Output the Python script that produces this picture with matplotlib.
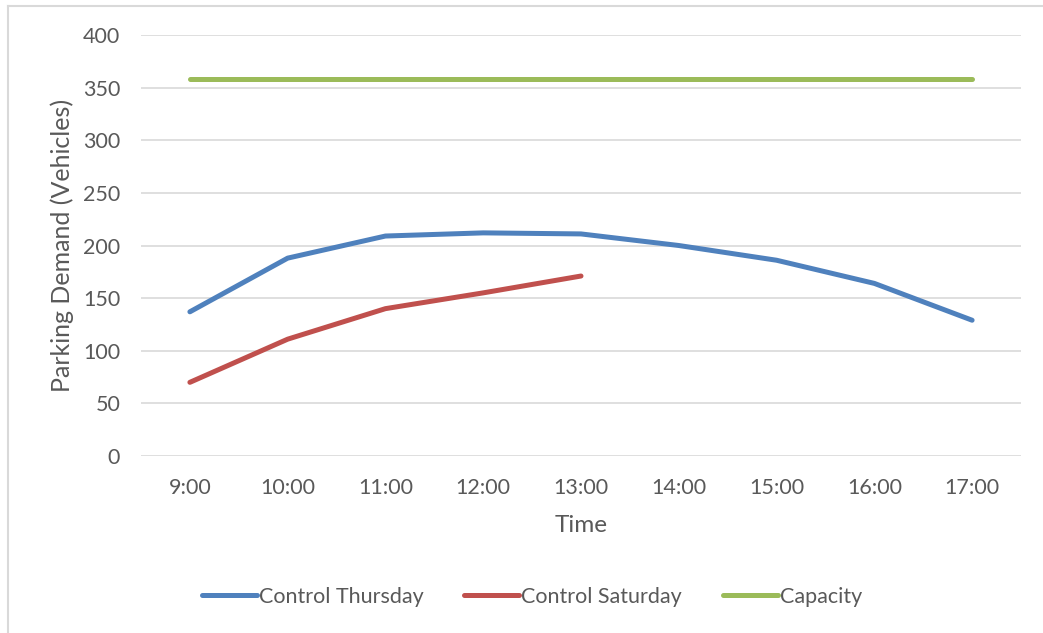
import matplotlib.pyplot as plt
from matplotlib.lines import Line2D

times = ['9:00', '10:00', '11:00', '12:00', '13:00', '14:00', '15:00', '16:00', '17:00']
thursday = [137, 188, 209, 212, 211, 200, 186, 164, 129]
saturday = [70, 111, 140, 155, 171]
capacity = [358] * len(times)

plt.rcParams['font.family'] = ['Lato', 'DejaVu Sans']
txt = '#595959'

fig = plt.figure(figsize=(10.43, 6.33), dpi=100)
ax = fig.add_axes([141 / 1043, 1 - 456 / 633, 880 / 1043, 421 / 633])

x = list(range(len(times)))
ax.plot(x, thursday, color='#4F81BD', lw=3.6, solid_capstyle='round', label='Control Thursday')
ax.plot(x[:len(saturday)], saturday, color='#C0504D', lw=3.6, solid_capstyle='round', label='Control Saturday')
ax.plot(x, capacity, color='#9BBB59', lw=3.6, solid_capstyle='round', label='Capacity')

ax.set_xlim(-0.5, len(times) - 0.5)
ax.set_ylim(0, 400)
ax.set_yticks(range(0, 401, 50))
ax.set_xticks(x)
ax.set_xticklabels(times)
ax.grid(axis='y', color='#D9D9D9', lw=1.2)
ax.set_axisbelow(True)
for s in ax.spines.values():
    s.set_visible(False)
ax.tick_params(length=0, labelsize=15.5, colors=txt)
ax.tick_params(axis='y', pad=15)
ax.tick_params(axis='x', pad=16)
ax.set_xlabel('Time', fontsize=17.5, color=txt, labelpad=12)
ax.set_ylabel('Parking Demand (Vehicles)', fontsize=18, color=txt, labelpad=6)

fig.legend(loc='center', bbox_to_anchor=(532 / 1043, 1 - 597 / 633), ncol=3, frameon=False,
           fontsize=15.5, labelcolor=txt, handlelength=2.55, handletextpad=0.1, columnspacing=1.9)

# outer chart frame
fig.add_artist(Line2D([8 / 1043, 1], [1 - 6 / 633, 1 - 6 / 633], color='#D9D9D9', lw=1.5, transform=fig.transFigure))
fig.add_artist(Line2D([8 / 1043, 8 / 1043], [0, 1 - 6 / 633], color='#D9D9D9', lw=1.5, transform=fig.transFigure))

fig.savefig('out.png', dpi=100)
